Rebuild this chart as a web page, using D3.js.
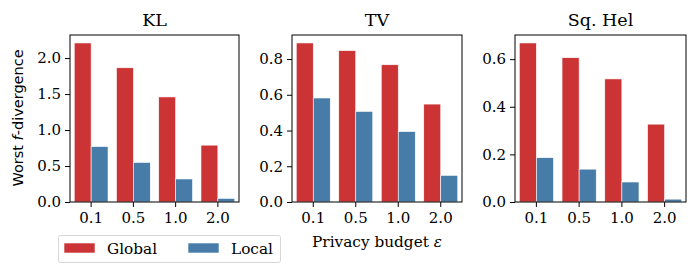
<!DOCTYPE html>
<html>
<head>
<meta charset="utf-8">
<script src="https://cdn.jsdelivr.net/npm/d3@7"></script>
<style>
  body { margin: 0; background: #fff; }
  text { font-family: "DejaVu Serif", serif; fill: #000; }
</style>
</head>
<body>
<div class="d3-canvas"></div>
<script>
const WIDTH = 697;
const HEIGHT = 274;
const SERIF = '"DejaVu Serif", serif';

// data
const budgets = ['0.1', '0.5', '1.0', '2.0'];
const seriesNames = ['Global', 'Local'];
const panelTitles = ['KL', 'TV', 'Sq. Hel'];
const klGlobal = [2.21, 1.865, 1.46, 0.79];
const klLocal = [0.77, 0.55, 0.32, 0.05];
const tvGlobal = [0.89, 0.847, 0.768, 0.548];
const tvLocal = [0.582, 0.507, 0.394, 0.149];
const helGlobal = [0.668, 0.606, 0.517, 0.327];
const helLocal = [0.186, 0.138, 0.084, 0.012];
const klTicks = [0.0, 0.5, 1.0, 1.5, 2.0];
const tvTicks = [0.0, 0.2, 0.4, 0.6, 0.8];
const helTicks = [0.0, 0.2, 0.4, 0.6];

const colors = {Global: '#cb3335', Local: '#477ca8'};

const panels = [
    {title: panelTitles[0], series: [klGlobal, klLocal], ticks: klTicks, left: 70, right: 239},
    {title: panelTitles[1], series: [tvGlobal, tvLocal], ticks: tvTicks, left: 292, right: 462},
    {title: panelTitles[2], series: [helGlobal, helLocal], ticks: helTicks, left: 515, right: 686}
];
const TOP = 35;
const BOTTOM = 202;

const svg = d3.select('.d3-canvas')
    .append('svg')
        .attr('width', WIDTH)
        .attr('height', HEIGHT);

panels.forEach(p => {
    const g = svg.append('g');

    const x = d3.scaleBand()
        .domain(budgets)
        .range([p.left, p.right])
        .paddingInner(0.2)
        .paddingOuter(0.1);
    const xs = d3.scaleBand()
        .domain(seriesNames)
        .range([0, x.bandwidth()]);
    const maxVal = d3.max(p.series.flat());
    const y = d3.scaleLinear()
        .domain([0, maxVal * 1.05])
        .range([BOTTOM, TOP]);

    // bars
    seriesNames.forEach((name, si) => {
        g.selectAll(null)
            .data(p.series[si])
            .enter()
            .append('rect')
            .attr('x', (d, i) => x(budgets[i]) + xs(name))
            .attr('y', d => y(d))
            .attr('width', xs.bandwidth())
            .attr('height', d => BOTTOM - y(d))
            .attr('fill', colors[name])
            .attr('stroke', '#fff')
            .attr('stroke-width', 0.6);
    });

    // axes
    const xAxis = d3.axisBottom(x).tickSize(5).tickPadding(5);
    const yAxis = d3.axisLeft(y).tickValues(p.ticks).tickFormat(d3.format('.1f')).tickSize(5).tickPadding(4);
    const xg = g.append('g').attr('transform', `translate(0, ${BOTTOM})`).call(xAxis);
    const yg = g.append('g').attr('transform', `translate(${p.left}, 0)`).call(yAxis);
    [xg, yg].forEach(a => {
        a.attr('font-family', null);
        a.select('.domain').remove();
        a.selectAll('text').style('font-family', SERIF).style('font-size', '15px').attr('fill', '#000');
        a.selectAll('line').attr('stroke', '#000').attr('stroke-width', 1);
    });

    // frame
    g.append('rect')
        .attr('x', p.left)
        .attr('y', TOP)
        .attr('width', p.right - p.left)
        .attr('height', BOTTOM - TOP)
        .attr('fill', 'none')
        .attr('stroke', '#000')
        .attr('stroke-width', 1);

    // title
    g.append('text')
        .attr('x', (p.left + p.right) / 2)
        .attr('y', 26)
        .attr('text-anchor', 'middle')
        .style('font-size', '17.5px')
        .text(p.title);
});

// y label
const yl = svg.append('text')
    .attr('transform', 'translate(23, 118) rotate(-90)')
    .attr('text-anchor', 'middle')
    .style('font-family', '"DejaVu Sans", sans-serif')
    .style('font-size', '14.5px');
yl.append('tspan').text('Worst ');
yl.append('tspan').style('font-style', 'italic').text('f');
yl.append('tspan').text('-divergence');

// x label
const xl = svg.append('text')
    .attr('x', 377)
    .attr('y', 247)
    .attr('text-anchor', 'middle')
    .style('font-size', '15.3px');
xl.append('tspan').text('Privacy budget ');
xl.append('tspan').style('font-style', 'italic').text('ε');

// legend
const legend = svg.append('g');
legend.append('rect')
    .attr('x', 58.5)
    .attr('y', 235.5)
    .attr('width', 222)
    .attr('height', 27)
    .attr('rx', 2)
    .attr('fill', '#fff')
    .attr('stroke', '#d6d6d6')
    .attr('stroke-width', 1);
const legendX = d3.scaleOrdinal().domain(seriesNames).range([64, 188]);
seriesNames.forEach(name => {
    legend.append('rect')
        .attr('x', legendX(name))
        .attr('y', 243)
        .attr('width', 31)
        .attr('height', 10)
        .attr('fill', colors[name])
        .attr('stroke', '#fff')
        .attr('stroke-width', 0.6);
    legend.append('text')
        .attr('x', legendX(name) + 43)
        .attr('y', 253.5)
        .style('font-size', '15.3px')
        .text(name);
});
</script>
</body>
</html>
